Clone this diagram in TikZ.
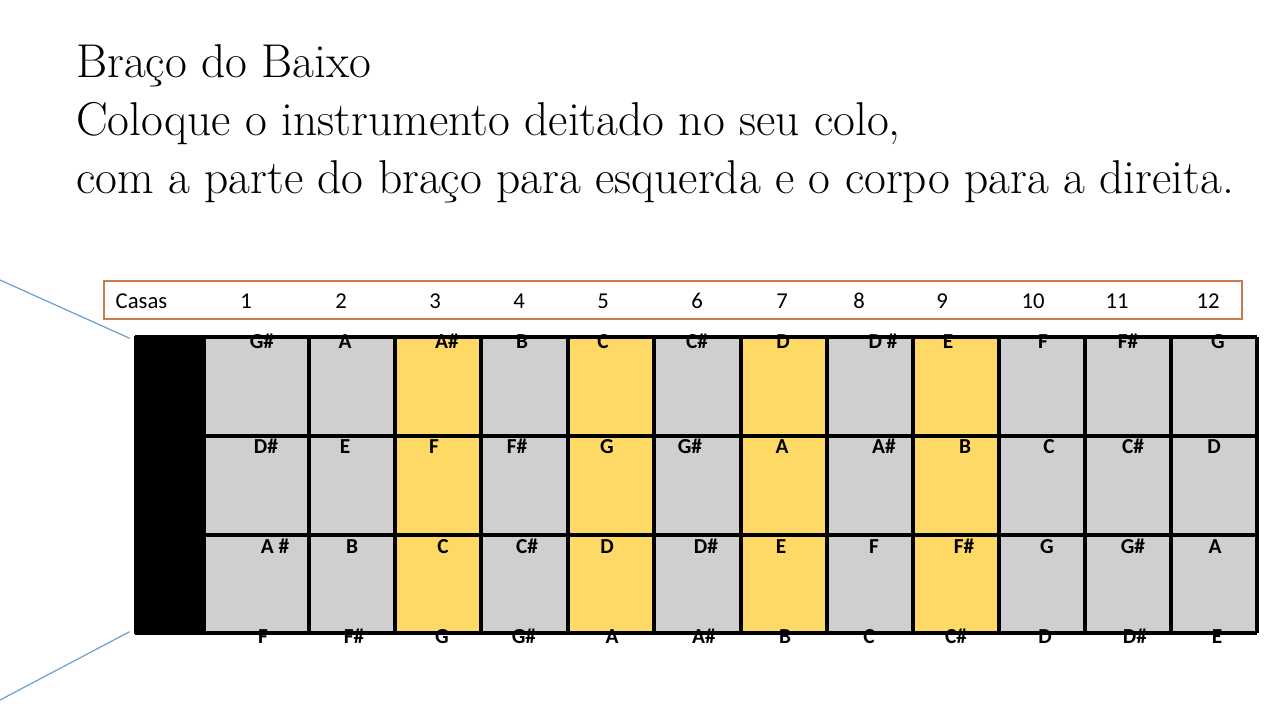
\documentclass[tikz,border=0pt]{standalone}
\usepackage{fontspec}
\setsansfont{Carlito}
\definecolor{cellgray}{HTML}{D0CECE}
\definecolor{cellyellow}{HTML}{FFD966}
\definecolor{hdrorange}{HTML}{C97B4B}
\definecolor{leadblue}{HTML}{6A9FD4}
\tikzset{
  titletext/.style={anchor=base west, inner sep=0pt, font=\fontsize{35.6}{40}\selectfont},
  hdrtext/.style={anchor=base, inner sep=0pt, font=\sffamily\fontsize{17}{20}\selectfont},
  notetext/.style={anchor=base, inner sep=0pt, font=\sffamily\bfseries\fontsize{16}{18}\selectfont},
  gridline/.style={line width=2.4pt, black},
  leadline/.style={line width=0.9pt, leadblue},
}
\begin{document}
\begin{tikzpicture}[x=0.75pt,y=-0.75pt]
\useasboundingbox (0,0) rectangle (1280,720);

% title
\node[titletext] (t1) at (76,78) {Braço do Baixo};
\node[titletext] (t2) at (76,136) {Coloque o instrumento deitado no seu colo,};
\node[titletext] (t3) at (76,194) {com a parte do braço para esquerda e o corpo para a direita.};

% header box
\node[draw=hdrorange, line width=0.9pt, minimum width=853.5pt, minimum height=28.5pt, inner sep=0pt] (hdr) at (673,300) {};
\node[hdrtext] (casas) at (141.5,308) {Casas};
\foreach \x [count=\i] in {246,341,435,519,603,697,782,859,942,1033,1117,1208}
  \node[hdrtext] (h\i) at (\x,308) {\i};

% fretboard fills
\fill[cellgray] (204,337) rectangle (1257,633);
\foreach \a/\b in {395/481,568/654,741/827,913/999}
  \fill[cellyellow] (\a,337) rectangle (\b,633);
% nut
\node[fill=black, draw=black, line width=2pt, minimum width=51.75pt, minimum height=222pt, inner sep=0pt] (nut) at (169.5,485) {};
% grid
\foreach \yy in {337,436,535,633}
  \draw[gridline] (135,\yy) -- (1257,\yy);
\foreach \xx in {204,309,395,481,568,654,741,827,913,999,1085,1171,1257}
  \draw[gridline] (\xx,337) -- (\xx,633);

% leading lines
\coordinate (lt) at (0,280);
\coordinate (lb) at (0,700);
\draw[leadline] ([shift={(-3pt,-2pt)}]nut.north west) -- (lt);
\draw[leadline] ([shift={(-3pt,2pt)}]nut.south west) -- (lb);

% notes
\foreach \x/\t [count=\i] in {262/{G\#},345/A,447/{A\#},522/B,603/C,697/{C\#},783/D,883/{D \#},948/E,1043/F,1128/{F\#},1218/G}
  \node[notetext] (ra\i) at (\x,348) {\t};
\foreach \x/\t [count=\i] in {266/{D\#},345/E,434/F,517/{F\#},607/G,690/{G\#},782/A,884/{A\#},965/B,1049/C,1133/{C\#},1214/D}
  \node[notetext] (rb\i) at (\x,453) {\t};
\foreach \x/\t [count=\i] in {275/{A \#},352/B,443/C,527/{C\#},607/D,706/{D\#},781/E,874/F,964/{F\#},1047/G,1133/{G\#},1215/A}
  \node[notetext] (rc\i) at (\x,553) {\t};
\foreach \x/\t [count=\i] in {263/F,354/{F\#},442/G,524/{G\#},612/A,704/{A\#},785/B,869/C,956/{C\#},1045/D,1135/{D\#},1217/E}
  \node[notetext] (rd\i) at (\x,643) {\t};
\end{tikzpicture}
\end{document}
